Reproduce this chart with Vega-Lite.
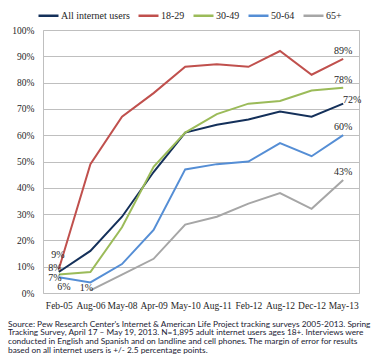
{
  "$schema": "https://vega.github.io/schema/vega-lite/v6.json",
  "width": 316,
  "height": 263,
  "autosize": {"type": "none"},
  "padding": {"left": 43, "top": 30, "right": 12, "bottom": 71},
  "background": "white",
  "config": {
    "font": "Liberation Sans Narrow",
    "view": {"stroke": "#BFBFBF", "strokeWidth": 1},
    "axis": {"labelFont": "Liberation Sans Narrow", "labelFontSize": 9.5, "labelColor": "#262626"},
    "legend": {"labelFont": "Liberation Sans Narrow"}
  },
  "title": {
    "text": [
      "Source: Pew Research Center's Internet & American Life Project tracking surveys 2005-2013. Spring",
      "Tracking Survey, April 17 – May 19, 2013. N=1,895 adult internet users ages 18+. Interviews were",
      "conducted in English and Spanish and on landline and cell phones.  The margin of error for results",
      "based on all internet users is +/- 2.5 percentage points."
    ],
    "orient": "bottom",
    "anchor": "start",
    "frame": "group",
    "dx": -35,
    "offset": 10,
    "font": "Lato",
    "fontSize": 8.3,
    "fontWeight": "normal",
    "lineHeight": 8.7,
    "color": "#1a1a33"
  },
  "data": {
    "values": [
      {"date": "Feb-05", "series": "All internet users", "value": 0.08},
      {"date": "Aug-06", "series": "All internet users", "value": 0.16},
      {"date": "May-08", "series": "All internet users", "value": 0.29},
      {"date": "Apr-09", "series": "All internet users", "value": 0.46},
      {"date": "May-10", "series": "All internet users", "value": 0.61},
      {"date": "Aug-11", "series": "All internet users", "value": 0.64},
      {"date": "Feb-12", "series": "All internet users", "value": 0.66},
      {"date": "Aug-12", "series": "All internet users", "value": 0.69},
      {"date": "Dec-12", "series": "All internet users", "value": 0.67},
      {"date": "May-13", "series": "All internet users", "value": 0.72},
      {"date": "Feb-05", "series": "18-29", "value": 0.09},
      {"date": "Aug-06", "series": "18-29", "value": 0.49},
      {"date": "May-08", "series": "18-29", "value": 0.67},
      {"date": "Apr-09", "series": "18-29", "value": 0.76},
      {"date": "May-10", "series": "18-29", "value": 0.86},
      {"date": "Aug-11", "series": "18-29", "value": 0.87},
      {"date": "Feb-12", "series": "18-29", "value": 0.86},
      {"date": "Aug-12", "series": "18-29", "value": 0.92},
      {"date": "Dec-12", "series": "18-29", "value": 0.83},
      {"date": "May-13", "series": "18-29", "value": 0.89},
      {"date": "Feb-05", "series": "30-49", "value": 0.07},
      {"date": "Aug-06", "series": "30-49", "value": 0.08},
      {"date": "May-08", "series": "30-49", "value": 0.25},
      {"date": "Apr-09", "series": "30-49", "value": 0.48},
      {"date": "May-10", "series": "30-49", "value": 0.61},
      {"date": "Aug-11", "series": "30-49", "value": 0.68},
      {"date": "Feb-12", "series": "30-49", "value": 0.72},
      {"date": "Aug-12", "series": "30-49", "value": 0.73},
      {"date": "Dec-12", "series": "30-49", "value": 0.77},
      {"date": "May-13", "series": "30-49", "value": 0.78},
      {"date": "Feb-05", "series": "50-64", "value": 0.06},
      {"date": "Aug-06", "series": "50-64", "value": 0.04},
      {"date": "May-08", "series": "50-64", "value": 0.11},
      {"date": "Apr-09", "series": "50-64", "value": 0.24},
      {"date": "May-10", "series": "50-64", "value": 0.47},
      {"date": "Aug-11", "series": "50-64", "value": 0.49},
      {"date": "Feb-12", "series": "50-64", "value": 0.50},
      {"date": "Aug-12", "series": "50-64", "value": 0.57},
      {"date": "Dec-12", "series": "50-64", "value": 0.52},
      {"date": "May-13", "series": "50-64", "value": 0.60},
      {"date": "Aug-06", "series": "65+", "value": 0.01},
      {"date": "May-08", "series": "65+", "value": 0.07},
      {"date": "Apr-09", "series": "65+", "value": 0.13},
      {"date": "May-10", "series": "65+", "value": 0.26},
      {"date": "Aug-11", "series": "65+", "value": 0.29},
      {"date": "Feb-12", "series": "65+", "value": 0.34},
      {"date": "Aug-12", "series": "65+", "value": 0.38},
      {"date": "Dec-12", "series": "65+", "value": 0.32},
      {"date": "May-13", "series": "65+", "value": 0.43}
    ]
  },
  "encoding": {
    "x": {
      "field": "date",
      "type": "ordinal",
      "sort": ["Feb-05", "Aug-06", "May-08", "Apr-09", "May-10", "Aug-11", "Feb-12", "Aug-12", "Dec-12", "May-13"],
      "scale": {"type": "point", "padding": 0.5},
      "axis": {"title": null, "labelAngle": 0, "ticks": false, "domain": false, "grid": false, "labelPadding": 7}
    },
    "y": {
      "field": "value",
      "type": "quantitative",
      "scale": {"domain": [0, 1], "nice": false},
      "axis": {
        "title": null,
        "format": ".0%",
        "values": [0, 0.1, 0.2, 0.3, 0.4, 0.5, 0.6, 0.7, 0.8, 0.9, 1],
        "ticks": false,
        "domain": false,
        "grid": true,
        "gridColor": "#BFBFBF",
        "gridWidth": 1,
        "labelPadding": 9
      }
    }
  },
  "layer": [
    {
      "mark": {"type": "line", "strokeWidth": 2},
      "encoding": {
        "color": {
          "field": "series",
          "type": "nominal",
          "scale": {
            "domain": ["All internet users", "18-29", "30-49", "50-64", "65+"],
            "range": ["#14305A", "#C0504D", "#9BBB59", "#558ED5", "#A6A6A6"]
          },
          "legend": {
            "title": null,
            "orient": "none",
            "legendX": -6,
            "legendY": -26,
            "direction": "horizontal",
            "symbolType": "stroke",
            "symbolSize": 400,
            "symbolStrokeWidth": 2.5,
            "labelFontSize": 10,
            "labelColor": "#262626",
            "labelOffset": 1,
            "columnPadding": 3
          }
        }
      }
    },
    {
      "transform": [{"filter": "datum.date == 'May-13' && datum.series != 'All internet users'"}],
      "mark": {"type": "text", "dy": -8, "fontSize": 10, "color": "#262626"},
      "encoding": {"text": {"field": "value", "format": ".0%"}}
    },
    {
      "transform": [{"filter": "datum.date == 'May-13' && datum.series == 'All internet users'"}],
      "mark": {"type": "text", "dx": 9, "dy": -4, "fontSize": 10, "color": "#262626"},
      "encoding": {"text": {"field": "value", "format": ".0%"}}
    },
    {
      "transform": [{"filter": "datum.date == 'Feb-05' && datum.series == '18-29'"}],
      "mark": {"type": "text", "dx": -1, "dy": -14, "fontSize": 10, "color": "#262626"},
      "encoding": {"text": {"field": "value", "format": ".0%"}}
    },
    {
      "transform": [{"filter": "datum.date == 'Feb-05' && datum.series == 'All internet users'"}],
      "mark": {"type": "text", "dx": -4, "dy": -4, "fontSize": 10, "color": "#262626"},
      "encoding": {"text": {"field": "value", "format": ".0%"}}
    },
    {
      "transform": [{"filter": "datum.date == 'Feb-05' && datum.series == '30-49'"}],
      "mark": {"type": "text", "dx": -4, "dy": 3, "fontSize": 10, "color": "#262626"},
      "encoding": {"text": {"field": "value", "format": ".0%"}}
    },
    {
      "transform": [{"filter": "datum.date == 'Feb-05' && datum.series == '50-64'"}],
      "mark": {"type": "text", "dx": 5, "dy": 10, "fontSize": 10, "color": "#262626"},
      "encoding": {"text": {"field": "value", "format": ".0%"}}
    },
    {
      "transform": [{"filter": "datum.date == 'Aug-06' && datum.series == '65+'"}],
      "mark": {"type": "text", "dx": -4, "dy": -2, "fontSize": 10, "color": "#262626"},
      "encoding": {"text": {"field": "value", "format": ".0%"}}
    }
  ]
}
